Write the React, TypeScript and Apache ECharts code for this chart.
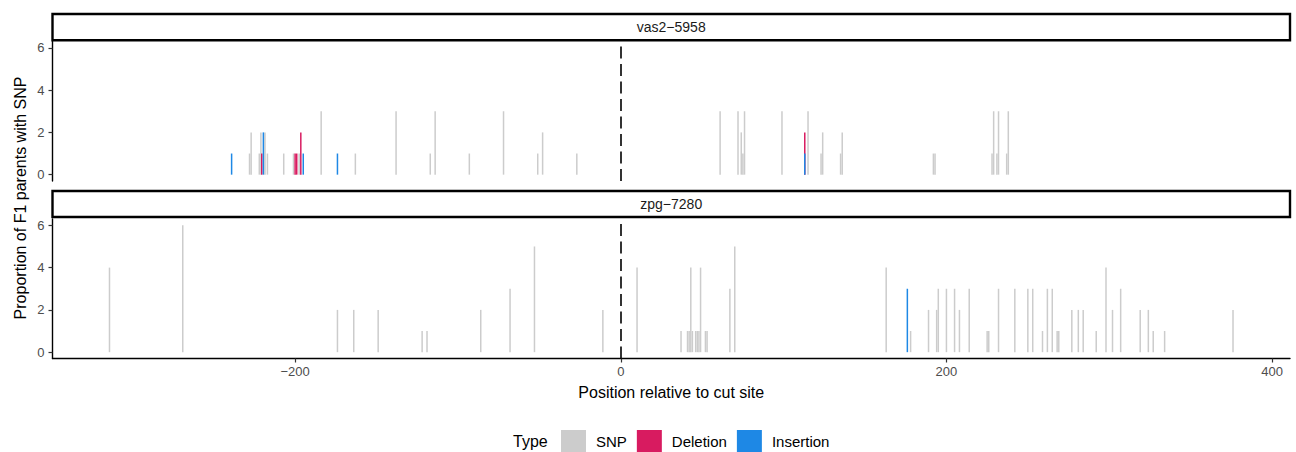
import React, { useEffect, useRef } from "react";
import * as echarts from "echarts";

const types = ["SNP", "Deletion", "Insertion"];
const typeColors = ["#cccccc", "#d81b60", "#1e88e5"];
const panelNames = ["vas2−5958", "zpg−7280"];
const xTicks = [-200, 0, 200, 400];
const yTicks = [0, 2, 4, 6];

// vas2-5958 panel: [position, value]
const vasSNP: [number, number][] = [
  [-228, 1], [-227, 2], [-222, 1], [-221, 2], [-218.5, 2], [-217, 1], [-207, 1],
  [-201, 1], [-197.5, 1], [-184, 3], [-163, 1], [-138, 3], [-117, 1], [-114, 3],
  [-93, 1], [-72, 3], [-51, 1], [-48, 2], [-27, 1], [61, 3], [72, 3], [74, 2],
  [75, 1], [76, 3], [99, 3], [115, 3], [123, 1], [124, 2], [135, 1], [136, 2],
  [192, 1], [193, 1], [228, 1], [229, 3], [231, 1], [232, 3], [237, 1], [238, 3],
];
const vasDeletion: [number, number][] = [
  [-220.5, 1], [-200, 1], [-199, 1], [-196.5, 2], [113, 2],
];
const vasInsertion: [number, number][] = [
  [-239, 1], [-219.5, 2], [-195, 1], [-174, 1], [113, 1],
];

// zpg-7280 panel
const zpgSNP: [number, number][] = [
  [-314, 4], [-269, 6], [-174, 2], [-164, 2], [-149, 2], [-122, 1], [-119, 1],
  [-86, 2], [-68, 3], [-53, 5], [-11, 2], [10, 4], [37, 1], [41, 1], [42, 1],
  [43, 4], [44, 1], [46, 1], [47, 1], [48, 1], [49, 4], [52, 1], [53, 1],
  [67, 3], [70, 5], [163, 4], [178, 1], [189, 2], [194, 2], [195, 3], [200, 3],
  [205, 3], [208, 2], [214, 3], [225, 1], [226, 1], [232, 3], [242, 3], [250, 3],
  [253, 3], [259, 1], [262, 3], [265, 3], [268, 1], [269, 1], [277, 2], [281, 2],
  [284, 2], [292, 1], [298, 4], [302, 2], [307, 3], [319, 2], [324, 2], [327, 1],
  [334, 1], [376, 2],
];
const zpgDeletion: [number, number][] = [];
const zpgInsertion: [number, number][] = [[176, 3]];

const FONT = "Liberation Sans, Arial, Helvetica, sans-serif";
const fmt = (v: number) => String(v).replace("-", "−");

export default function App() {
  const ref = useRef<HTMLDivElement>(null);
  useEffect(() => {
    const chart = echarts.init(ref.current!, null, { renderer: "svg" });
    const panels = [
      [vasSNP, vasDeletion, vasInsertion],
      [zpgSNP, zpgDeletion, zpgInsertion],
    ];
    const gridLeft = 52.5;
    const gridRight = 6;
    const grids = [
      { left: gridLeft, right: gridRight, top: 41.5, height: 139.5 },
      { left: gridLeft, right: gridRight, top: 219, height: 139.5 },
    ];
    const xAxes = grids.map((_, i) => ({
      type: "value",
      gridIndex: i,
      min: -349,
      max: 411,
      show: i === 1,
      splitLine: { show: false },
      axisLine: { show: true, onZero: false, lineStyle: { color: "#000", width: 1.4 } },
      axisTick: {
        show: true, customValues: xTicks, length: 4, inside: false,
        lineStyle: { color: "#333", width: 1.2 },
      },
      axisLabel: {
        customValues: xTicks, formatter: fmt, margin: 6,
        color: "#4d4d4d", fontSize: 13, fontFamily: FONT,
      },
      name: i === 1 ? "Position relative to cut site" : "",
      nameLocation: "middle",
      nameGap: 26,
      nameTextStyle: { fontSize: 16, color: "#000", fontFamily: FONT },
    }));
    const yAxes = grids.map((_, i) => ({
      type: "value",
      gridIndex: i,
      min: -0.3,
      max: 6.3,
      splitLine: { show: false },
      axisLine: { show: true, onZero: false, lineStyle: { color: "#000", width: 1.4 } },
      axisTick: {
        show: true, customValues: yTicks, length: 4,
        lineStyle: { color: "#333", width: 1.2 },
      },
      axisLabel: {
        customValues: yTicks, formatter: fmt, margin: 8,
        color: "#4d4d4d", fontSize: 13, fontFamily: FONT,
      },
    }));
    const series: any[] = [];
    panels.forEach((p, i) => {
      types.forEach((t, j) => {
        series.push({
          type: "bar",
          name: t,
          xAxisIndex: i,
          yAxisIndex: i,
          data: p[j],
          barWidth: 1.5,
          barGap: "-100%",
          itemStyle: { color: typeColors[j] },
          z: 2 + j,
          markLine:
            j === 0
              ? {
                  silent: true,
                  symbol: "none",
                  label: { show: false },
                  lineStyle: { color: "#000", width: 1.6, type: [12, 5.5] },
                  data: [{ xAxis: 0 }],
                }
              : undefined,
        });
      });
    });
    const stripX = gridLeft;
    const stripW = 1296 - gridRight - gridLeft;
    const strips = [
      { y: 14, h: 26.3 },
      { y: 191, h: 26 },
    ];
    const graphic: any[] = [];
    strips.forEach((s, i) => {
      graphic.push({
        type: "rect",
        shape: { x: stripX, y: s.y, width: stripW, height: s.h },
        style: { fill: "#fff", stroke: "#000", lineWidth: 2.4 },
        z: 10,
      });
      graphic.push({
        type: "text",
        x: stripX + stripW / 2,
        y: s.y + s.h / 2,
        style: {
          text: panelNames[i], fill: "#1a1a1a", fontSize: 14, fontFamily: FONT,
          align: "center", verticalAlign: "middle",
        },
        z: 11,
      });
    });
    graphic.push({
      type: "text",
      x: 20,
      y: 198,
      rotation: Math.PI / 2,
      style: {
        text: "Proportion of F1 parents with SNP", fill: "#000", fontSize: 16,
        fontFamily: FONT, align: "center", verticalAlign: "middle",
      },
    });
    graphic.push({
      type: "text",
      x: 513,
      y: 441,
      style: {
        text: "Type", fill: "#000", fontSize: 16, fontFamily: FONT,
        align: "left", verticalAlign: "middle",
      },
    });
    chart.setOption({
      animation: false,
      backgroundColor: "#fff",
      grid: grids,
      xAxis: xAxes,
      yAxis: yAxes,
      series,
      legend: {
        data: types,
        left: 556,
        top: 425,
        padding: 5,
        itemWidth: 25,
        itemHeight: 22,
        itemGap: 10,
        icon: "rect",
        selectedMode: false,
        textStyle: { fontSize: 15, color: "#000", fontFamily: FONT, padding: [0, 0, 0, 5] },
      },
      graphic,
    });
    return () => chart.dispose();
  }, []);
  return (
    <div
      ref={ref}
      style={{ position: "absolute", left: 0, top: 0, width: 1296, height: 452 }}
    />
  );
}
